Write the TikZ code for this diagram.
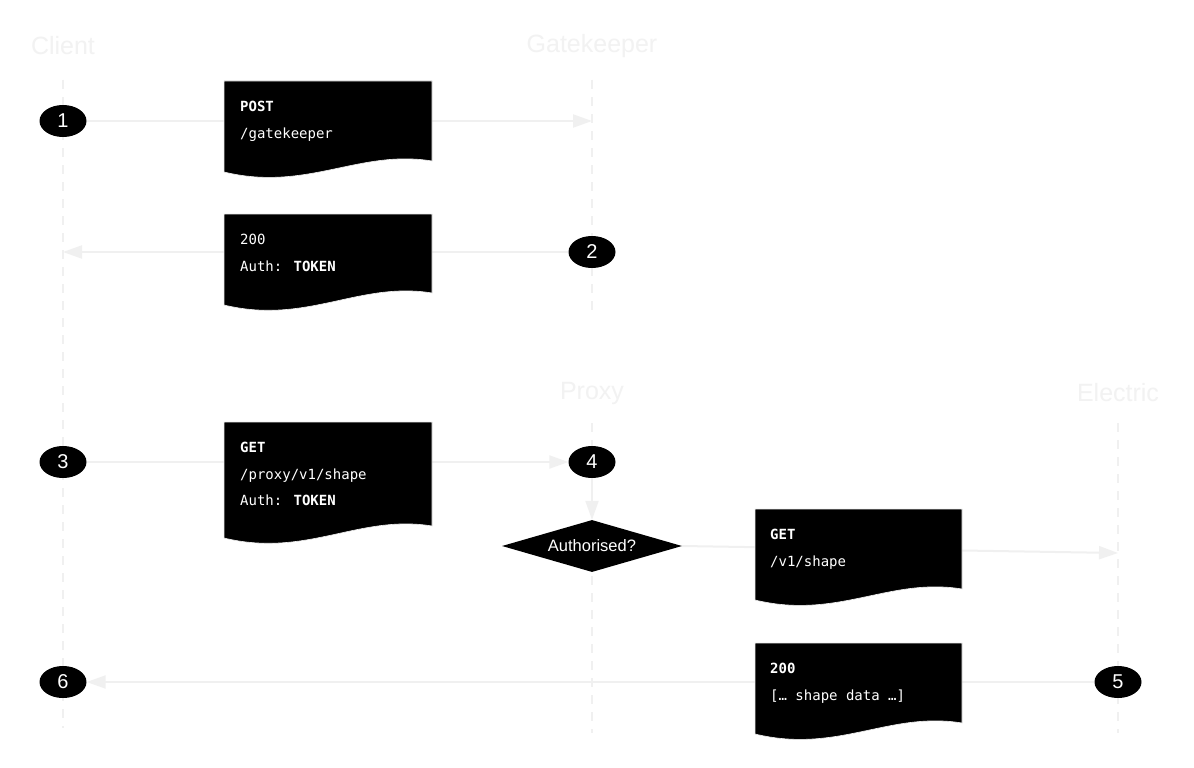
\documentclass[tikz,border=0pt]{standalone}
\usepackage{fontspec}
\setmainfont{Liberation Sans}
\newfontfamily\monofam{DejaVu Sans Mono}
\usetikzlibrary{arrows.meta,shapes.geometric}
\definecolor{lab}{gray}{0.95}
\definecolor{ln}{gray}{0.94}
\tikzset{
 lifeline/.style={draw=ln, line width=1.5pt, dash pattern=on 9pt off 8pt},
 flow/.style={draw=ln, line width=2pt, -{Triangle[length=19pt,width=13pt]}},
 actor/.style={text=lab, inner sep=0, font=\fontsize{25}{30}\selectfont},
 badge/.style={ellipse, fill=black, text=white, minimum width=47pt, minimum height=32pt, inner sep=0, font=\fontsize{20}{24}\selectfont},
 docshape/.style={fill=black, draw=ln, line width=0.6pt},
 doctext/.style={anchor=north west, inner sep=0, align=left, text=white, font=\monofam\fontsize{14}{26.5}\selectfont},
 decision/.style={diamond, aspect=3.46, fill=black, text=white, minimum width=180pt, minimum height=52pt, inner sep=0, font=\fontsize{16.5}{19}\selectfont}
}
\begin{document}
\begin{tikzpicture}[x=1pt,y=-1pt]
\useasboundingbox[fill=white] (0,0) rectangle (1194,768);
% actor labels
\node[actor] (client) at (63,46) {Client};
\node[actor] (gate) at (592,46) {Gatekeeper};
\node[actor] (proxy) at (592,393) {Proxy};
\node[actor] (electric) at (1118,393) {Electric};
% lifelines
\draw[lifeline] (63,80) -- (63,728);
\draw[lifeline] (592,80) -- (592,312);
\draw[lifeline] (592,423) -- (592,733);
\draw[lifeline] (1118,423) -- (1118,733);
% badges and decision
\node[badge] (b1) at (63,121) {1};
\node[badge] (b2) at (592,252) {2};
\node[badge] (b3) at (63,462) {3};
\node[badge] (b4) at (592,462) {4};
\node[badge] (b5) at (1118,682) {5};
\node[badge] (b6) at (63,682) {6};
\node[decision] (dec) at (592,546) {Authorised?};
\coordinate (g1) at (592,121);
\coordinate (c2) at (63,252);
\coordinate (e4) at (1118,553);
% flows
\draw[flow] (b1.east) -- (g1);
\draw[flow] (b2.west) -- (c2);
\draw[flow] (b3.east) -- (b4.west);
\draw[flow] (b4.south) -- (dec.north);
\draw[flow] (dec.east) -- (e4);
\draw[flow] (b5.west) -- (b6.east);
% document boxes
\path[docshape] (224,81) -- (432,81) -- (432,161) .. controls +(-73,-12) and +(83,20) .. (224,172) -- cycle;
\node[doctext] (t1) at (240,101) {\textbf{POST}\\/gatekeeper};
\path[docshape] (224,214) -- (432,214) -- (432,293) .. controls +(-73,-12) and +(83,20) .. (224,305) -- cycle;
\node[doctext] (t2) at (240,234) {200\\Auth: \textbf{TOKEN}};
\path[docshape] (224,422) -- (432,422) -- (432,526) .. controls +(-73,-12) and +(83,20) .. (224,538) -- cycle;
\node[doctext] (t3) at (240,442) {\textbf{GET}\\/proxy/v1/shape\\Auth: \textbf{TOKEN}};
\path[docshape] (755,509) -- (962,509) -- (962,589) .. controls +(-73,-12) and +(83,20) .. (755,600) -- cycle;
\node[doctext] (t4) at (770,529) {\textbf{GET}\\/v1/shape};
\path[docshape] (755,643) -- (962,643) -- (962,723) .. controls +(-73,-12) and +(83,20) .. (755,734) -- cycle;
\node[doctext] (t5) at (770,663) {\textbf{200}\\{[}… shape data …{]}};
\end{tikzpicture}
\end{document}
